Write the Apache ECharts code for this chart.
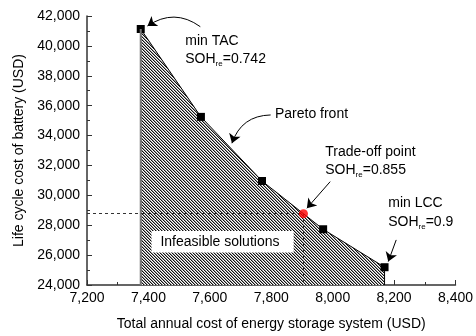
<!DOCTYPE html>
<html>
<head>
<meta charset="utf-8">
<script src="https://cdn.jsdelivr.net/npm/echarts@6/dist/echarts.min.js"></script>
<style>
  html, body { margin: 0; padding: 0; background: #fff; }
  #chart { width: 476px; height: 336px; }
</style>
</head>
<body>
<div id="chart"></div>
<script>
// pareto front points
var tacCost = [7375, 7571, 7770, 7969, 8169];
var lccCost = [41130, 35250, 30960, 27730, 25190];
var tradeOff = [7905, 28770];
var xTicks = [7200, 8400, 200];
var yTicks = [24000, 42000, 2000];

var FONT = 'Liberation Sans';

// hatch pattern for the infeasible area, drawn pixel by pixel
var pat = document.createElement('canvas');
pat.width = 3;
pat.height = 3;
var pctx = pat.getContext('2d');
pctx.fillStyle = '#fff';
pctx.fillRect(0, 0, 3, 3);
for (var i = 0; i < 3; i++) {
    pctx.fillStyle = '#111';
    pctx.fillRect(i, i, 1, 1);
    pctx.fillStyle = '#999';
    pctx.fillRect((i + 1) % 3, i, 1, 1);
}

var front = tacCost.map(function (x, i) { return [x, lccCost[i]]; });
var yMin = yTicks[0];

var chartDom = document.getElementById('chart');
var myChart = echarts.init(chartDom);
var option;

var subRich = {
    a: { fontSize: 14, lineHeight: 18, fontFamily: FONT, color: '#000' },
    s: { fontSize: 8, lineHeight: 8, verticalAlign: 'bottom', fontFamily: FONT, color: '#000' }
};

function arrows(curve, list) {
    return {
        type: 'lines',
        coordinateSystem: 'cartesian2d',
        polyline: false,
        silent: true,
        symbol: ['none', 'arrow'],
        symbolSize: [7, 9],
        lineStyle: { color: '#000', width: 1, opacity: 1, curveness: curve },
        data: list.map(function (c) { return { coords: c }; }),
        z: 20
    };
}

option = {
    animation: false,
    textStyle: { fontFamily: FONT },
    grid: { left: 87, right: 18, top: 16, bottom: 50 },
    xAxis: {
        type: 'value',
        min: xTicks[0], max: xTicks[1], interval: xTicks[2],
        name: 'Total annual cost of energy storage system (USD)',
        nameLocation: 'middle',
        nameGap: 32,
        nameTextStyle: { fontSize: 14, color: '#000', fontFamily: FONT },
        axisLine: { lineStyle: { color: '#333', width: 1.5 } },
        axisTick: { inside: true, length: 5, lineStyle: { color: '#333' } },
        minorTick: { show: true, splitNumber: 2, length: 3, lineStyle: { color: '#333' } },
        axisLabel: {
            fontSize: 14, color: '#000', margin: 6, fontFamily: FONT,
            formatter: function (v) { return v.toLocaleString('en-US'); }
        },
        splitLine: { show: false }
    },
    yAxis: {
        type: 'value',
        min: yTicks[0], max: yTicks[1], interval: yTicks[2],
        name: 'Life cycle cost of battery (USD)',
        nameLocation: 'middle',
        nameGap: 58,
        nameTextStyle: { fontSize: 14, color: '#000', fontFamily: FONT },
        axisLine: { show: true, lineStyle: { color: '#333', width: 1.5 } },
        axisTick: { show: true, inside: true, length: 5, lineStyle: { color: '#333' } },
        minorTick: { show: true, splitNumber: 2, length: 3, lineStyle: { color: '#333' } },
        axisLabel: {
            fontSize: 14, color: '#000', margin: 7, fontFamily: FONT,
            formatter: function (v) { return v.toLocaleString('en-US'); }
        },
        splitLine: { show: false }
    },
    series: [
        {
            // hatched infeasible region + pareto front
            type: 'line',
            data: front,
            symbol: 'rect',
            symbolSize: 8,
            itemStyle: { color: '#000' },
            lineStyle: { color: '#000', width: 1 },
            areaStyle: { color: { image: pat, repeat: 'repeat' }, opacity: 1 },
            z: 3
        },
        {
            // vertical bounds
            type: 'line',
            data: [[tacCost[0], yMin], [tacCost[0], lccCost[0]]],
            symbol: 'none',
            lineStyle: { color: '#777', width: 2 },
            z: 4
        },
        {
            type: 'line',
            data: [[tacCost[4], yMin], [tacCost[4], lccCost[4]]],
            symbol: 'none',
            lineStyle: { color: '#000', width: 1 },
            z: 4
        },
        {
            // trade-off point with dashed guides
            type: 'scatter',
            data: [tradeOff],
            symbol: 'circle',
            symbolSize: 9,
            itemStyle: { color: '#ff0000' },
            z: 6,
            markLine: {
                silent: true,
                symbol: 'none',
                label: { show: false },
                lineStyle: { color: '#333', width: 1, type: [3, 3] },
                data: [
                    [{ coord: [xTicks[0], tradeOff[1]] }, { coord: tradeOff }],
                    [{ coord: tradeOff }, { coord: [tradeOff[0], yMin] }]
                ]
            }
        },
        arrows(-0.35, [
            [[7569, 41284], [7397, 41331]],
            [[7798, 35378], [7672, 33485]]
        ]),
        arrows(0, [
            [[7992, 30916], [7916, 29137]],
            [[8207, 27017], [8181, 25565]]
        ])
    ]
};

option && myChart.setOption(option);

// annotations placed in data coordinates
function px(p) { return myChart.convertToPixel({ gridIndex: 0 }, p); }

function label(pos, text, rich) {
    var p = px(pos);
    return {
        type: 'text', x: p[0], y: p[1], z: 100,
        style: {
            text: text, fontSize: 14, fontFamily: FONT, fill: '#000',
            verticalAlign: 'middle', rich: rich
        }
    };
}

var boxA = px([7410, 27619]);
var boxB = px([7873, 26167]);

myChart.setOption({
    graphic: [
        label([7520, 40328], 'min TAC'),
        label([7520, 39124], '{a|SOH}{s|re}{a|=0.742}', subRich),
        label([7812, 35445], 'Pareto front'),
        label([7976, 32923], 'Trade-off point'),
        label([7976, 31699], '{a|SOH}{s|re}{a|=0.855}', subRich),
        label([8181, 29492], 'min LCC'),
        label([8181, 28221], '{a|SOH}{s|re}{a|=0.9}', subRich),
        {
            type: 'rect', z: 90,
            shape: { x: boxA[0], y: boxA[1], width: boxB[0] - boxA[0], height: boxB[1] - boxA[1] },
            style: { fill: '#fff' }
        },
        label([7439, 26883], 'Infeasible solutions')
    ]
});
</script>
</body>
</html>
